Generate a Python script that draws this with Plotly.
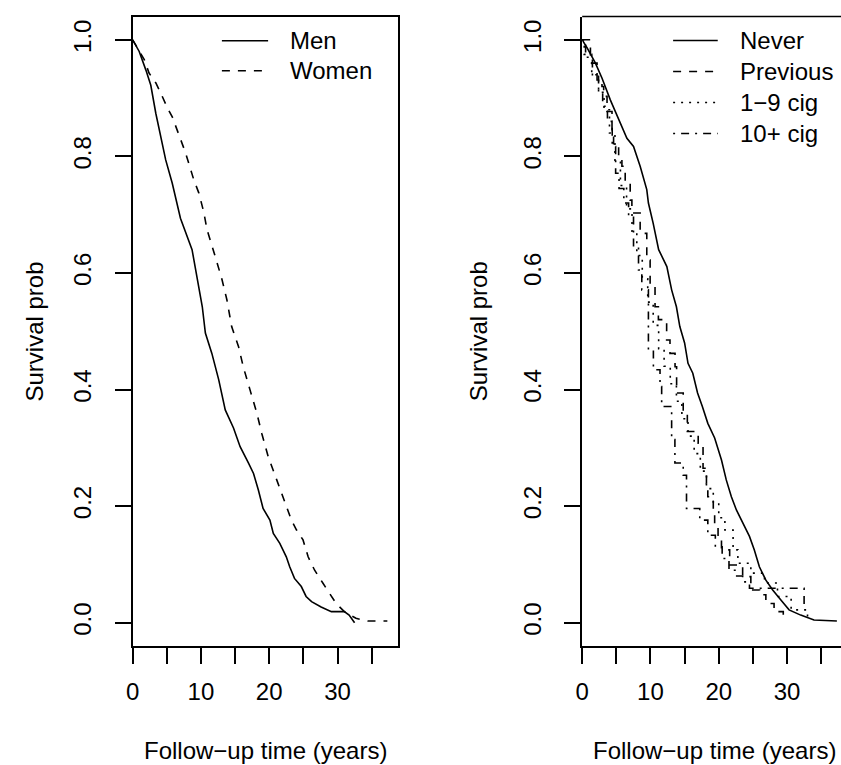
import plotly.graph_objects as go

# ---------------- data ----------------
men_t = [0, 0.96, 1.94, 2.66, 3.39, 4.1, 4.84, 5.8, 7.0, 8.7, 9.2, 10.2, 10.65, 11.6, 12.6,
         13.56, 14.77, 15.74, 16.95, 17.7, 18.4, 19.1, 20.1, 20.6, 21.55, 22.5, 23.0, 23.7,
         24.7, 25.4, 26.2, 27.6, 29.1, 31.0, 31.7, 32.5]
men_s = [1.0, 0.98, 0.948, 0.922, 0.874, 0.834, 0.794, 0.754, 0.694, 0.64, 0.605, 0.542, 0.497,
         0.462, 0.417, 0.365, 0.334, 0.302, 0.274, 0.256, 0.228, 0.196, 0.176, 0.153, 0.136,
         0.113, 0.096, 0.076, 0.062, 0.045, 0.036, 0.027, 0.019, 0.019, 0.013, 0.0]

women_t = [0, 0.7, 1.7, 2.4, 3.4, 4.1, 5.1, 5.8, 6.5, 7.75, 8.95, 9.7, 10.4, 10.9, 12.1, 13.1,
           13.8, 14.5, 15.5, 16.2, 17.2, 18.2, 18.9, 19.4, 19.85, 21.1, 21.8, 22.5, 23.25, 24.0,
           24.95, 25.7, 26.65, 27.85, 28.8, 29.8, 31.0, 32.7, 34.4, 37.3]
women_s = [1.0, 0.986, 0.966, 0.943, 0.926, 0.909, 0.883, 0.868, 0.846, 0.806, 0.76, 0.737, 0.705,
           0.674, 0.628, 0.588, 0.554, 0.508, 0.474, 0.439, 0.399, 0.359, 0.325, 0.302, 0.285,
           0.245, 0.222, 0.199, 0.176, 0.159, 0.142, 0.113, 0.09, 0.068, 0.05, 0.033, 0.019,
           0.0075, 0.003, 0.003]

never_t = [0, 0.73, 1.94, 2.91, 4.12, 5.34, 6.55, 7.52, 8.49, 9.46, 9.7, 10.4, 11.2, 12.4, 13.1,
           13.8, 14.3, 15.0, 15.5, 16.2, 16.9, 17.6, 18.4, 19.4, 20.4, 21.1, 21.85, 22.6, 23.5,
           24.5, 25.2, 25.95, 26.9, 27.9, 29.1, 30.3, 32.0, 33.95, 37.3]
never_s = [1.0, 0.986, 0.96, 0.934, 0.897, 0.863, 0.831, 0.817, 0.783, 0.743, 0.72, 0.685, 0.64,
           0.611, 0.571, 0.542, 0.508, 0.48, 0.445, 0.428, 0.394, 0.371, 0.342, 0.317, 0.279,
           0.245, 0.216, 0.193, 0.171, 0.148, 0.125, 0.096, 0.073, 0.056, 0.039, 0.022, 0.013,
           0.0046, 0.003]

prev_t = [0, 1.21, 2.18, 2.9, 3.15, 3.64, 4.37, 4.6, 5.34, 5.82, 6.3, 7.03, 7.28, 8.49, 9.46,
          9.95, 10.67, 11.16, 12.37, 12.86, 13.6, 13.83, 14.8, 15.4, 16.99, 17.7, 18.2, 18.4,
          19.2, 19.4, 19.9, 20.4, 21.6, 23.5, 24.7, 26.0, 26.9, 28.1, 29.45]
prev_s = [1.0, 0.96, 0.931, 0.92, 0.903, 0.877, 0.846, 0.82, 0.8, 0.783, 0.754, 0.725, 0.703,
          0.668, 0.622, 0.577, 0.542, 0.52, 0.485, 0.462, 0.439, 0.394, 0.359, 0.328, 0.308,
          0.265, 0.239, 0.216, 0.193, 0.165, 0.148, 0.125, 0.099, 0.079, 0.056, 0.048, 0.033,
          0.019, 0.0]

cig19_t = [0, 0.3, 1.4, 2.4, 3.2, 4.0, 4.8, 5.6, 6.5, 7.3, 8.0, 8.8, 9.6, 10.4, 11.2, 12.0, 12.9,
           13.8, 14.6, 15.5, 16.4, 17.3, 18.2, 19.2, 20.0, 20.9, 22.1, 22.8, 24.7, 26.7, 28.6,
           30.6, 33.0]
cig19_s = [1.0, 0.975, 0.94, 0.91, 0.88, 0.84, 0.79, 0.75, 0.71, 0.67, 0.63, 0.59, 0.55, 0.51,
           0.47, 0.44, 0.41, 0.38, 0.35, 0.32, 0.29, 0.26, 0.23, 0.205, 0.18, 0.159, 0.125,
           0.102, 0.085, 0.068, 0.045, 0.022, 0.008]

cig10_t = [0, 0.5, 1.5, 2.4, 3.0, 3.7, 4.4, 4.9, 5.4, 6.1, 6.8, 7.52, 8.25, 8.73, 9.7, 10.43,
           11.4, 11.64, 13.1, 13.58, 14.8, 15.28, 17.22, 18.4, 19.5, 20.5, 21.5, 22.5, 23.5,
           24.5, 32.5]
cig10_s = [1.0, 0.97, 0.94, 0.91, 0.886, 0.86, 0.817, 0.771, 0.745, 0.72, 0.697, 0.645, 0.605,
           0.571, 0.468, 0.434, 0.405, 0.371, 0.314, 0.274, 0.253, 0.196, 0.176, 0.15, 0.13,
           0.11, 0.09, 0.08, 0.07, 0.059, 0.022]

x_ticks = [0, 5, 10, 15, 20, 25, 30, 35]
x_ticklabels = ["0", "", "10", "", "20", "", "30", ""]
y_ticks = [0.0, 0.2, 0.4, 0.6, 0.8, 1.0]
y_ticklabels = ["0.0", "0.2", "0.4", "0.6", "0.8", "1.0"]

legend_left = ["Men", "Women"]
legend_right = ["Never", "Previous", "1\u22129 cig", "10+ cig"]
x_title = "Follow\u2212up time (years)"
y_title = "Survival prob"

# ---------------- styles ----------------
W, H = 841, 765
FONT = "Liberation Sans, Arial, Helvetica, sans-serif"
DASH = "8px,8px"
DOT = "2px,6px"
DASHDOT = "2px,6px,8px,6px"
LW = 1.6

fig = go.Figure()


def add(t, s, dash, xa, ya, name, shape="linear"):
    fig.add_trace(go.Scatter(x=t, y=s, mode="lines", name=name, xaxis=xa, yaxis=ya,
                             line=dict(color="black", width=LW, dash=dash, shape=shape),
                             showlegend=False, hoverinfo="skip"))


add(men_t, men_s, "solid", "x", "y", legend_left[0])
add(women_t, women_s, DASH, "x", "y", legend_left[1])
add(never_t, never_s, "solid", "x2", "y2", legend_right[0])
add(prev_t, prev_s, DASH, "x2", "y2", legend_right[1], "hv")
add(cig19_t, cig19_s, DOT, "x2", "y2", legend_right[2], "hv")
add(cig10_t, cig10_s, DASHDOT, "x2", "y2", legend_right[3], "hv")

px_per_unit = 6.886
left_x0, left_x1 = 126.7, 394.0
right_x0 = 580.0
top_px, bot_px = 16.5, 646.0

axis_common = dict(showgrid=False, zeroline=False, showline=True, linecolor="black",
                   linewidth=1.5, ticks="outside", ticklen=16, tickwidth=1.5,
                   tickcolor="black", tickfont=dict(size=24, color="black", family=FONT))
xcommon = dict(axis_common, tickmode="array", tickvals=x_ticks, ticktext=x_ticklabels,
               ticklabelstandoff=7)
ycommon = dict(axis_common, tickmode="array", tickvals=y_ticks, ticktext=y_ticklabels,
               tickangle=-90, range=[-0.04, 1.04], ticklabelstandoff=14,
               domain=[1 - bot_px / H, 1 - top_px / H])

fig.update_layout(
    width=W, height=H, autosize=False,
    margin=dict(l=0, r=0, t=0, b=0, pad=0),
    paper_bgcolor="white", plot_bgcolor="white",
    font=dict(family=FONT, size=24, color="black"),
    xaxis=dict(xcommon, domain=[left_x0 / W, left_x1 / W],
               range=[0, (left_x1 - left_x0) / px_per_unit], anchor="y", mirror=True),
    yaxis=dict(ycommon, anchor="x", mirror=True),
    xaxis2=dict(xcommon, domain=[right_x0 / W, 1.0],
                range=[0, (W - right_x0) / px_per_unit], anchor="y2"),
    yaxis2=dict(ycommon, anchor="x2"),
)

# top border of right panel (box continues beyond the window)
shapes = [dict(type="line", xref="x2 domain", yref="y2 domain", x0=0, x1=1, y0=1, y1=1,
               line=dict(color="black", width=1.5))]
annotations = []


def legend(names, dashes, sx0, sx1, tx, y0, dy):
    for i, (n, d) in enumerate(zip(names, dashes)):
        yp = 1 - (y0 + i * dy) / H
        shapes.append(dict(type="line", xref="paper", yref="paper", x0=sx0 / W, x1=sx1 / W,
                           y0=yp, y1=yp, line=dict(color="black", width=LW, dash=d)))
        annotations.append(dict(text=n, xref="paper", yref="paper", x=tx / W, y=yp,
                                xanchor="left", yanchor="middle", showarrow=False,
                                font=dict(size=24, family=FONT, color="black")))


legend(legend_left, ["solid", DASH], 216.7, 263.3, 283.0, 40.7, 30.0)
legend(legend_right, ["solid", DASH, DOT, DASHDOT], 671.7, 716.7, 737.5, 40.5, 31.0)

for cx in [(left_x0 + left_x1) / 2, right_x0 + (left_x1 - left_x0) / 2]:
    annotations.append(dict(text=x_title, xref="paper", yref="paper", x=cx / W, y=1 - 750 / H,
                            xanchor="center", yanchor="middle", showarrow=False,
                            font=dict(size=24, family=FONT, color="black")))
for cx in [27.5, 475.0]:
    annotations.append(dict(text=y_title, xref="paper", yref="paper", x=cx / W,
                            y=1 - (top_px + bot_px) / 2 / H, textangle=-90,
                            xanchor="center", yanchor="middle", showarrow=False,
                            font=dict(size=24, family=FONT, color="black")))

fig.update_layout(shapes=shapes, annotations=annotations)
fig.write_html("out.html", config={"displayModeBar": False},
               post_script="document.body.style.margin='0';document.body.style.overflow='hidden';")
